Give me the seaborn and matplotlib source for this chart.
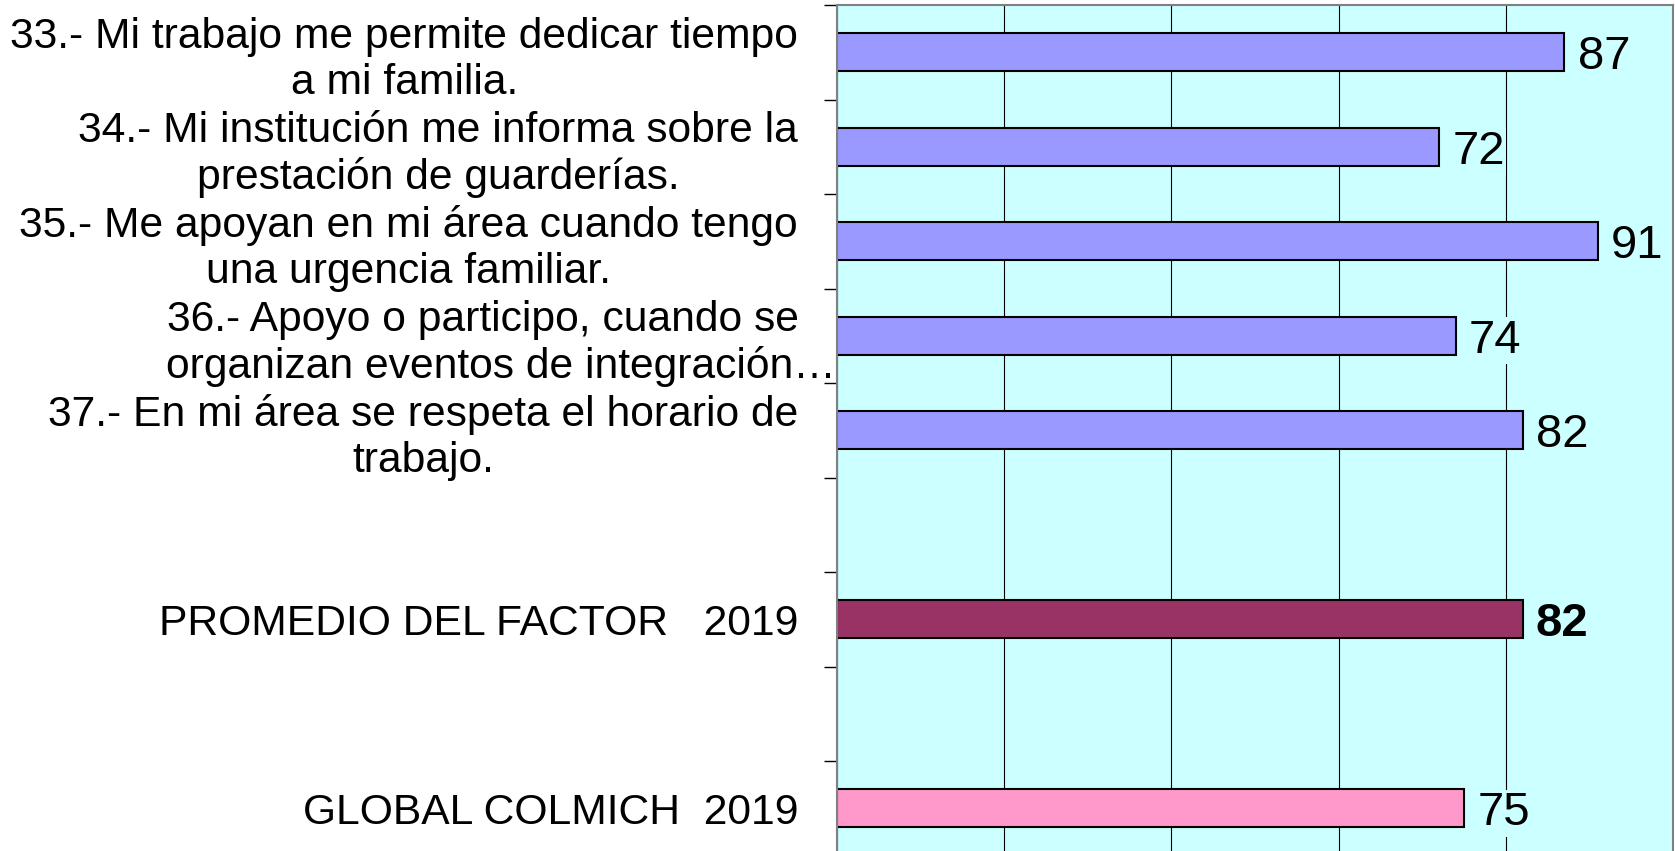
import numpy as np
import pandas as pd
import matplotlib
matplotlib.use("Agg")
import matplotlib.pyplot as plt
import matplotlib.transforms as mtransforms
import seaborn as sns

# data
questions = [
    "33.- Mi trabajo me permite dedicar tiempo\na mi familia.",
    "34.- Mi institución me informa sobre la\nprestación de guarderías.",
    "35.- Me apoyan en mi área cuando tengo\nuna urgencia familiar.",
    "36.- Apoyo o participo, cuando se   \norganizan eventos de integración…",
    "37.- En mi área se respeta el horario de\ntrabajo.",
]
question_values = [87, 72, 91, 74, 82]
promedio_label = "PROMEDIO DEL FACTOR   2019"
promedio_value = 82
global_label = "GLOBAL COLMICH  2019"
global_value = 75

bar_color = "#9999FF"
promedio_color = "#993366"
global_color = "#FF99CC"
bg_color = "#CCFFFF"

sns.set_style("white")
plt.rcParams["font.family"] = ["Liberation Sans", "DejaVu Sans"]
plt.rcParams["text.color"] = "black"
plt.rcParams["ytick.color"] = "black"
plt.rcParams["ytick.labelcolor"] = "black"

# empty slots between groups, as in the source chart
categories = questions + [" ", promedio_label, "  ", global_label]
values = question_values + [np.nan, promedio_value, np.nan, global_value]
colors = [bar_color] * len(questions) + [bg_color, promedio_color, bg_color, global_color]
df = pd.DataFrame({"categoria": categories, "valor": values})

fig = plt.figure(figsize=(16.75, 8.51), dpi=100)
ax = fig.add_axes([837 / 1675, -4.5 / 851, 836 / 1675, 850.5 / 851])
ax.set_facecolor(bg_color)

sns.barplot(data=df, x="valor", y="categoria", hue="categoria", order=categories,
            palette=dict(zip(categories, colors)), legend=False, orient="h",
            width=0.4, edgecolor="black", linewidth=1.5, saturation=1, ax=ax)

ax.set_xlim(0, 100)
ax.set_ylim(len(categories) - 0.5, -0.5)
ax.set_xticks([0, 20, 40, 60, 80, 100])
ax.xaxis.grid(True, color="black", linewidth=0.8)
ax.set_axisbelow(True)
ax.tick_params(axis="x", length=0, labelbottom=False)
ax.set_xlabel("")
ax.set_ylabel("")

ax.set_yticks(range(len(categories)))
ax.set_yticklabels(categories, fontsize=30.7, multialignment="center", color="black")
ax.tick_params(axis="y", which="major", left=False, length=0, pad=28)
ax.set_yticks(np.arange(-0.5, len(categories), 1), minor=True)
ax.tick_params(axis="y", which="minor", left=True, length=9.5, width=1,
               color="black", direction="out")

# the truncated label spills to the right in the original
lbl = ax.get_yticklabels()[3]
lbl.set_transform(lbl.get_transform() + mtransforms.ScaledTranslation(0.38, 0, fig.dpi_scale_trans))

for side in ["left", "top", "right"]:
    ax.spines[side].set_color("#808080")
    ax.spines[side].set_linewidth(1.5)
ax.spines["bottom"].set_visible(False)

for i, v in enumerate(values):
    if np.isnan(v):
        continue
    bold = categories[i] == promedio_label
    ax.text(v + 1.6, i, f"{v:.0f}", va="center_baseline", ha="left", fontsize=34,
            fontweight="bold" if bold else "normal", zorder=5, color="black",
            bbox=dict(facecolor=bg_color, edgecolor="none", pad=1))

fig.savefig("out.png", dpi=100)
